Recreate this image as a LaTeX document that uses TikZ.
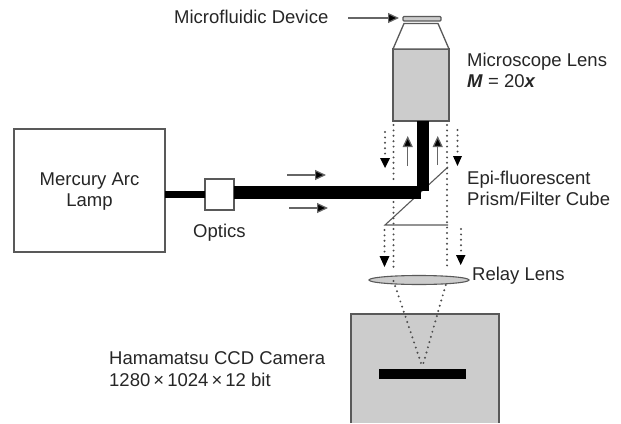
\documentclass[tikz,border=0pt]{standalone}
\usepackage{fontspec}
\setmainfont{Liberation Sans}
\usetikzlibrary{arrows.meta}
\definecolor{lensgrey}{gray}{0.8}
\definecolor{linegrey}{gray}{0.35}
\tikzset{
  lbl/.style={font=\fontsize{18.5pt}{22pt}\selectfont,text=black!85,inner sep=0pt,anchor=base west},
  outline/.style={draw=linegrey,line width=1.3pt},
  ray/.style={draw=black!70,line width=2.2pt,line cap=round,dash pattern=on 0pt off 5.4pt},
  flow/.style={draw=black!60,line width=1.2pt,-{Triangle[length=11pt,width=10pt,fill=black]}},
  rayhead/.style={fill=black,draw=none},
  beam/.style={fill=black,draw=none}
}
\begin{document}
\begin{tikzpicture}[x=1pt,y=-1pt]
\useasboundingbox (0,0) rectangle (621,423);
% camera and lenses
\path[outline,fill=lensgrey] (351,423) -- (351,314) -- (499,314) -- (499,423);
\fill[black] (379,369) rectangle (466,379);
\path[outline,fill=lensgrey] (393,49) rectangle (449,121);
\path[outline,fill=white] (393,49) -- (404,23.5) -- (438,23.5) -- (449,49) -- cycle;
\path[outline,fill=lensgrey,rounded corners=1pt] (403,16.5) rectangle (441,21);
% lamp and optics
\node[outline,fill=white,minimum width=151pt,minimum height=123pt,inner sep=0pt] (lamp) at (89.5,190.5) {};
\node[lbl,anchor=base] at (89.5,185) {Mercury Arc};
\node[lbl,anchor=base] at (89.5,206) {Lamp};
\node[outline,fill=white,minimum width=29pt,minimum height=31pt,inner sep=0pt] (optics) at (219.5,194.5) {};
% prism
\coordinate (pa) at (385,225); \coordinate (pb) at (448,167); \coordinate (pc) at (448,225);
\draw[linegrey,line width=1.1pt] (pb) -- (pa) -- (pc);
% beams
\fill[beam] (165,191) rectangle (205,197.5);
\fill[beam] (234,186) rectangle (420.7,198.5);
\fill[beam] (417,121) rectangle (429.3,190.7);
% rays
\path[ray] (393.5,125) -- (393.5,182);
\path[ray] (393.5,202) -- (393.5,270);
\path[ray] (447,125) -- (447,270);
\path[ray] (385,132) -- (385,158);
\path[ray] (457.5,130) -- (457.5,155);
\path[ray] (384.5,230) -- (384.5,255);
\path[ray] (461,229) -- (461,254);
\fill[rayhead] (380,158) -- (390,158) -- (385,168) -- cycle;
\fill[rayhead] (453,156) -- (462,156) -- (457.5,166) -- cycle;
\fill[rayhead] (379.5,256) -- (389.5,256) -- (384.5,267) -- cycle;
\fill[rayhead] (456,255) -- (465.5,255) -- (460.7,265) -- cycle;
% relay lens
\draw[linegrey,line width=1.1pt,fill=lensgrey] (419,280) ellipse [x radius=50,y radius=4.5];
\path[ray] (393.5,281) -- (422.3,367);
\path[ray] (445.7,285) -- (422.3,367);
% flow arrows
\coordinate (upa) at (407.7,166); \coordinate (upa2) at (407.7,136);
\coordinate (upb) at (437.7,165); \coordinate (upb2) at (437.7,136);
\draw[flow] (upa) -- (upa2);
\draw[flow] (upb) -- (upb2);
\coordinate (ra) at (287,175); \coordinate (ra2) at (326,175);
\coordinate (rb) at (289,208); \coordinate (rb2) at (328,208);
\draw[flow] (ra) -- (ra2);
\draw[flow] (rb) -- (rb2);
\coordinate (da) at (348,18); \coordinate (da2) at (399,18);
\draw[flow] (da) -- (da2);
% labels
\node[lbl] at (174,23.5) {Microfluidic Device};
\node[lbl] at (467,66.5) {Microscope Lens};
\node[lbl] at (467,87.7) {\textbf{\textit{M}} = 20\textit{\textbf{x}}};
\node[lbl] at (467,184) {Epi-fluorescent};
\node[lbl] at (467,205) {Prism/Filter Cube};
\node[lbl] at (193,237.7) {Optics};
\node[lbl] at (472,280.7) {Relay Lens};
\node[lbl] at (109,364.3) {Hamamatsu CCD Camera};
\node[lbl] at (109,386) {1280\,×\,1024\,×\,12 bit};
\end{tikzpicture}
\end{document}
